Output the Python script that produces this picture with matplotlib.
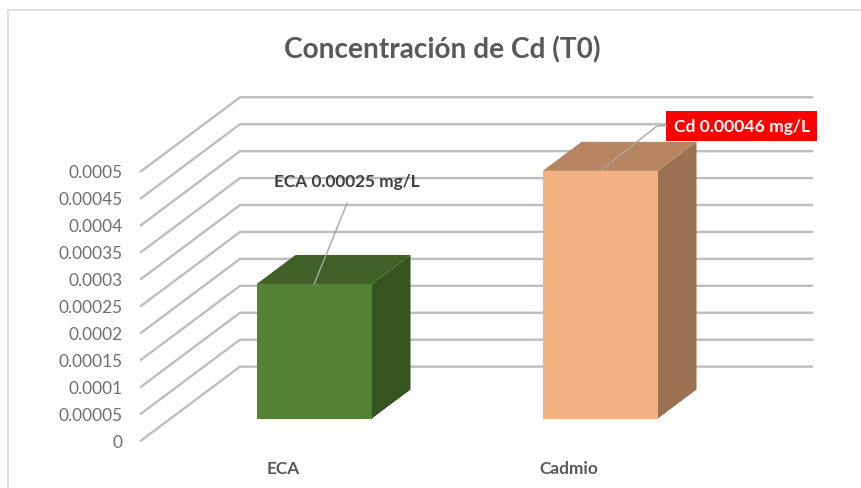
import matplotlib
matplotlib.use('Agg')
import matplotlib.pyplot as plt
from matplotlib.patches import Polygon
from matplotlib.lines import Line2D

plt.rcParams['font.family'] = ['Lato', 'DejaVu Sans']

categories = ['ECA', 'Cadmio']
values = [0.00025, 0.00046]
bar_colors = ['#548235', '#F4B183']
top_colors = ['#3F6128', '#B7855F']
side_colors = ['#36541F', '#9A7252']
tick_values = [0, 0.00005, 0.0001, 0.00015, 0.0002, 0.00025, 0.0003, 0.00035, 0.0004, 0.00045, 0.0005]
tick_labels = ['0', '0.00005', '0.0001', '0.00015', '0.0002', '0.00025', '0.0003', '0.00035', '0.0004', '0.00045', '0.0005']
labels = ['ECA 0.00025 mg/L', 'Cd 0.00046 mg/L']

W, H = 862, 489
fig = plt.figure(figsize=(W / 100, H / 100), dpi=100)
# front plane of the 3d box, the back wall is shifted from it by (DX, DY)
ax = fig.add_axes([141 / W, 1 - 441.6 / H, 572 / W, 269.3 / H])
ax.set_xlim(-0.5, 1.5)
ax.set_ylim(0, 0.0005)
ax.axis('off')

DX = 99 / 286
DY = 74 / 269.3 * 0.0005
bar_w = 115 / 286
d0 = 0.297
d1 = 0.689
nudge = 0.8 / 286

for v, lab in zip(tick_values, tick_labels):
    ax.plot([-0.5, -0.5 + DX, 1.5 + DX], [v, v + DY, v + DY], color='#BDBDBD', lw=1.7,
            clip_on=False, zorder=1, solid_joinstyle='miter')
    ax.annotate(lab, (-0.5, v), xytext=(-18, -1), textcoords='offset pixels', ha='right', va='center',
                fontsize=12.4, color='#6E6E6E', annotation_clip=False)


def pt(x, v, d):
    return (x + nudge + DX * d, v + DY * d)


for i, v in enumerate(values):
    l = i - bar_w / 2
    r = i + bar_w / 2
    front = [pt(l, 0, d0), pt(r, 0, d0), pt(r, v, d0), pt(l, v, d0)]
    top = [pt(l, v, d0), pt(r, v, d0), pt(r, v, d1), pt(l, v, d1)]
    side = [pt(r, 0, d0), pt(r, 0, d1), pt(r, v, d1), pt(r, v, d0)]
    ax.add_patch(Polygon(side, color=side_colors[i], lw=0, clip_on=False, zorder=3))
    ax.add_patch(Polygon(top, color=top_colors[i], lw=0, clip_on=False, zorder=3))
    ax.add_patch(Polygon(front, color=bar_colors[i], lw=0, clip_on=False, zorder=3))
    ax.annotate(categories[i], pt(i, 0, d0), xytext=(-31, -49), textcoords='offset pixels', ha='center',
                va='center', fontsize=12.4, fontweight='bold', color='#595959', annotation_clip=False)


def leader(anchor, offsets):
    # polyline given as pixel offsets from a bar top
    x0, y0 = ax.transData.transform(anchor)
    xs = [x0 + o[0] for o in offsets]
    ys = [y0 + o[1] for o in offsets]
    fig.add_artist(Line2D(xs, ys, transform=None, color='#A6A6A6', lw=1, zorder=4))


# leader lines and data labels
anchor0 = pt(0, values[0], d0)
anchor1 = pt(1, values[1], d0)
leader(anchor0, [(0, 0), (33, 81)])
leader(anchor1, [(0, 0), (57, 45), (66, 45)])
ax.annotate(labels[0], anchor0, xytext=(33, 103), textcoords='offset pixels', ha='center',
            va='center', fontsize=12.4, fontweight='bold', color='#404040', annotation_clip=False, zorder=5)
ax.annotate(labels[1], anchor1, xytext=(141.5, 45), textcoords='offset pixels', ha='center',
            va='center', fontsize=12.6, fontweight='bold', color='white', annotation_clip=False, zorder=6,
            bbox=dict(boxstyle='square,pad=0.42', fc='#FF0000', ec='none'))

fig.text(442 / W, 1 - 49.5 / H, 'Concentración de Cd (T0)', ha='center', va='center', fontsize=20.2,
         fontweight='bold', color='#595959')

# chart area border
fig.add_artist(Line2D([8 / W, 8 / W, 1], [0, 1 - 11 / H, 1 - 11 / H], color='#D9D9D9', lw=1.2))

fig.savefig('out.png', dpi=100)
